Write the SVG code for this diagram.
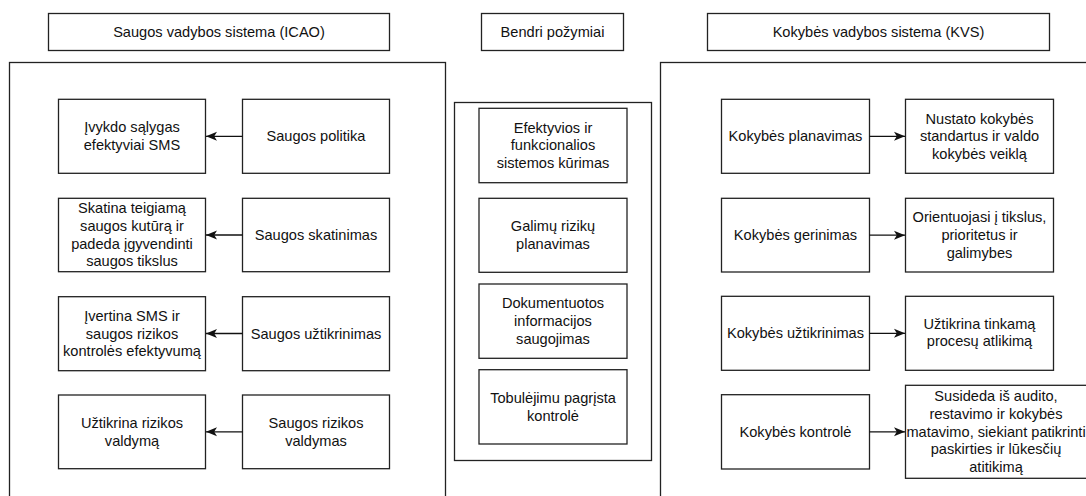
<svg xmlns="http://www.w3.org/2000/svg" width="1086" height="496" viewBox="0 0 1086 496">
<style>
  .box { fill: #ffffff; stroke: #222222; stroke-width: 1.3; }
  .t { font-family: "Liberation Sans", Arial, Helvetica, sans-serif; font-size: 14.6px; fill: #111111; text-anchor: middle; }
  .edge { fill: none; stroke: #111111; stroke-width: 1.3; }
</style>
<defs>
  <marker id="arr" markerUnits="userSpaceOnUse" viewBox="0 0 11 10" refX="11" refY="5" markerWidth="11" markerHeight="10" orient="auto">
    <path d="M0,0.5 L11,5 L0,9.5 L2.8,5 Z" fill="#111111"/>
  </marker>
</defs>
<rect width="1086" height="496" fill="#ffffff"/>

<!-- Containers -->
<g id="icao-container"><rect class="box" x="9.5" y="62.5" width="436" height="460"/></g>
<g id="common-container"><rect class="box" x="454.5" y="102.5" width="197" height="358"/></g>
<g id="kvs-container"><rect class="box" x="660.5" y="62.5" width="460" height="460"/></g>

<!-- Titles -->
<g id="title-icao"><rect class="box" x="48.5" y="13.5" width="341" height="37"/><text class="t" x="219" y="36.6">Saugos vadybos sistema (ICAO)</text></g>
<g id="title-common"><rect class="box" x="481.5" y="13.5" width="142" height="37"/><text class="t" x="552.5" y="36.6">Bendri požymiai</text></g>
<g id="title-kvs"><rect class="box" x="707.5" y="13.5" width="342" height="37"/><text class="t" x="878.5" y="36.6">Kokybės vadybos sistema (KVS)</text></g>

<!-- ICAO column -->
<g id="icao-l1"><rect class="box" x="58.5" y="99.3" width="147" height="74"/>
  <text class="t" x="132" y="132.3">Įvykdo sąlygas</text><text class="t" x="132" y="149.9">efektyviai SMS</text></g>
<g id="icao-r1"><rect class="box" x="242.5" y="99.3" width="147" height="74"/>
  <text class="t" x="316" y="141.1">Saugos politika</text></g>
<g id="icao-l2"><rect class="box" x="58.5" y="198.3" width="147" height="73.4"/>
  <text class="t" x="132" y="213.4">Skatina teigiamą</text><text class="t" x="132" y="231">saugos kutūrą ir</text><text class="t" x="132" y="248.6">padeda įgyvendinti</text><text class="t" x="132" y="266.2">saugos tikslus</text></g>
<g id="icao-r2"><rect class="box" x="242.5" y="198.3" width="147" height="73.4"/>
  <text class="t" x="316" y="239.8">Saugos skatinimas</text></g>
<g id="icao-l3"><rect class="box" x="58.5" y="296.7" width="147" height="74"/>
  <text class="t" x="132" y="320.9">Įvertina SMS ir</text><text class="t" x="132" y="338.5">saugos rizikos</text><text class="t" x="132" y="356.1">kontrolės efektyvumą</text></g>
<g id="icao-r3"><rect class="box" x="242.5" y="296.7" width="147" height="74"/>
  <text class="t" x="316" y="338.5">Saugos užtikrinimas</text></g>
<g id="icao-l4"><rect class="box" x="58.5" y="395" width="147" height="73.7"/>
  <text class="t" x="132" y="427.9">Užtikrina rizikos</text><text class="t" x="132" y="445.5">valdymą</text></g>
<g id="icao-r4"><rect class="box" x="242.5" y="395" width="147" height="73.7"/>
  <text class="t" x="316" y="427.9">Saugos rizikos</text><text class="t" x="316" y="445.5">valdymas</text></g>

<!-- Common column -->
<g id="common-1"><rect class="box" x="479" y="108.3" width="148" height="74.4"/>
  <text class="t" x="553" y="132.7">Efektyvios ir</text><text class="t" x="553" y="150.3">funkcionalios</text><text class="t" x="553" y="167.9">sistemos kūrimas</text></g>
<g id="common-2"><rect class="box" x="479" y="198.3" width="148" height="74"/>
  <text class="t" x="553" y="231.3">Galimų rizikų</text><text class="t" x="553" y="248.9">planavimas</text></g>
<g id="common-3"><rect class="box" x="479" y="284" width="148" height="74.3"/>
  <text class="t" x="553" y="308.4">Dokumentuotos</text><text class="t" x="553" y="326">informacijos</text><text class="t" x="553" y="343.6">saugojimas</text></g>
<g id="common-4"><rect class="box" x="479" y="369.7" width="148" height="74.3"/>
  <text class="t" x="553" y="402.9">Tobulėjimu pagrįsta</text><text class="t" x="553" y="420.5">kontrolė</text></g>

<!-- KVS column -->
<g id="kvs-l1"><rect class="box" x="721.5" y="99.3" width="148" height="74"/>
  <text class="t" x="795.5" y="141.1">Kokybės planavimas</text></g>
<g id="kvs-r1"><rect class="box" x="905.5" y="99.3" width="148" height="74"/>
  <text class="t" x="979.5" y="123.5">Nustato kokybės</text><text class="t" x="979.5" y="141.1">standartus ir valdo</text><text class="t" x="979.5" y="158.7">kokybės veiklą</text></g>
<g id="kvs-l2"><rect class="box" x="721.5" y="198.3" width="148" height="73.7"/>
  <text class="t" x="795.5" y="240">Kokybės gerinimas</text></g>
<g id="kvs-r2"><rect class="box" x="905.5" y="198.3" width="148" height="73.7"/>
  <text class="t" x="979.5" y="222.4">Orientuojasi į tikslus,</text><text class="t" x="979.5" y="240">prioritetus ir</text><text class="t" x="979.5" y="257.6">galimybes</text></g>
<g id="kvs-l3"><rect class="box" x="721.5" y="296.3" width="148" height="74"/>
  <text class="t" x="795.5" y="338.1">Kokybės užtikrinimas</text></g>
<g id="kvs-r3"><rect class="box" x="905.5" y="296.3" width="148" height="74"/>
  <text class="t" x="979.5" y="328.5">Užtikrina tinkamą</text><text class="t" x="979.5" y="346.1">procesų atlikimą</text></g>
<g id="kvs-l4"><rect class="box" x="721.5" y="394.7" width="148" height="74.3"/>
  <text class="t" x="795.5" y="436.7">Kokybės kontrolė</text></g>
<g id="kvs-r4"><rect class="box" x="905.5" y="385.3" width="186" height="93"/>
  <text class="t" x="996" y="401.4">Susideda iš audito,</text><text class="t" x="996" y="419">restavimo ir kokybės</text><text class="t" x="996" y="436.6">matavimo, siekiant patikrinti</text><text class="t" x="996" y="454.2">paskirties ir lūkesčių</text><text class="t" x="996" y="471.8">atitikimą</text></g>

<!-- Connectors -->
<g id="connectors">
  <line class="edge" x1="242.5" y1="136.3" x2="206" y2="136.3" marker-end="url(#arr)"/>
  <line class="edge" x1="242.5" y1="235" x2="206" y2="235" marker-end="url(#arr)"/>
  <line class="edge" x1="242.5" y1="333.5" x2="206" y2="333.5" marker-end="url(#arr)"/>
  <line class="edge" x1="242.5" y1="431.8" x2="206" y2="431.8" marker-end="url(#arr)"/>
  <line class="edge" x1="869.5" y1="136.3" x2="905" y2="136.3" marker-end="url(#arr)"/>
  <line class="edge" x1="869.5" y1="235.2" x2="905" y2="235.2" marker-end="url(#arr)"/>
  <line class="edge" x1="869.5" y1="333.3" x2="905" y2="333.3" marker-end="url(#arr)"/>
  <line class="edge" x1="869.5" y1="431.8" x2="905" y2="431.8" marker-end="url(#arr)"/>
</g>
</svg>
